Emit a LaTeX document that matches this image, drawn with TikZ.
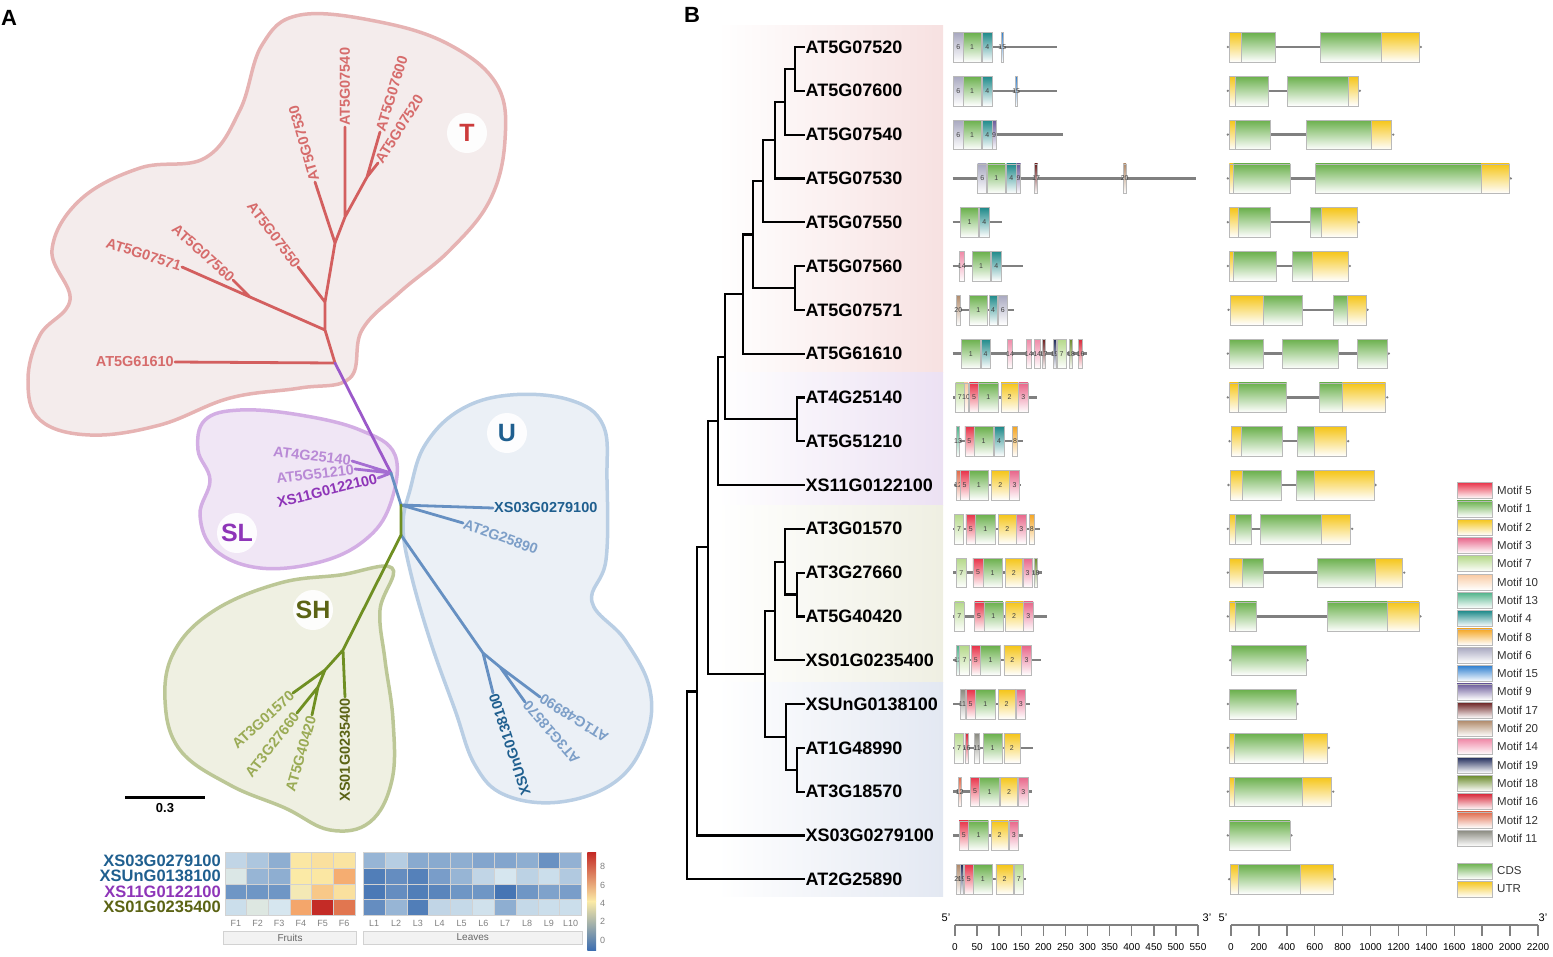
\documentclass[tikz,border=0pt]{standalone}
\usepackage{fontspec}
\setmainfont{Liberation Sans}
\usetikzlibrary{positioning,calc}

% clade colours
\definecolor{tfill}{HTML}{F4ECEC}
\definecolor{tline}{HTML}{E6B3B3}
\definecolor{slfill}{HTML}{F0E6F5}
\definecolor{slline}{HTML}{D3AEE4}
\definecolor{ufill}{HTML}{EBF0F6}
\definecolor{uline}{HTML}{B9CEE4}
\definecolor{shfill}{HTML}{EFF0E2}
\definecolor{shline}{HTML}{BCC796}
\definecolor{tbrc}{HTML}{D35F5F}
\definecolor{tlabc}{HTML}{D66B6B}
\definecolor{tdark}{HTML}{CC3B3B}
\definecolor{trunkc}{HTML}{9B59C9}
\definecolor{slbrc}{HTML}{A56ED2}
\definecolor{sllabc}{HTML}{B98AD6}
\definecolor{sldark}{HTML}{8E35B8}
\definecolor{ubrc}{HTML}{6690C2}
\definecolor{ulabc}{HTML}{7D9FC8}
\definecolor{udark}{HTML}{1F5F8F}
\definecolor{shbrc}{HTML}{6F8F22}
\definecolor{shlabc}{HTML}{9AAB55}
\definecolor{shdark}{HTML}{5B6314}
\definecolor{bandT}{HTML}{F7E1E1}
\definecolor{bandSL}{HTML}{ECE1F3}
\definecolor{bandSH}{HTML}{EFEFE2}
\definecolor{bandU}{HTML}{E3E8F2}
% motif colours
\definecolor{m1}{HTML}{6AB04C}
\definecolor{m2}{HTML}{F5C518}
\definecolor{m3}{HTML}{E8668A}
\definecolor{m4}{HTML}{1F8A8A}
\definecolor{m5}{HTML}{E8344A}
\definecolor{m6}{HTML}{A8A8C0}
\definecolor{m7}{HTML}{B5D98A}
\definecolor{m8}{HTML}{F5A623}
\definecolor{m9}{HTML}{6A5A9A}
\definecolor{m10}{HTML}{F9C9A0}
\definecolor{m11}{HTML}{8A8A80}
\definecolor{m12}{HTML}{E06A4A}
\definecolor{m13}{HTML}{4FB38A}
\definecolor{m14}{HTML}{F08AA8}
\definecolor{m15}{HTML}{2F7FD0}
\definecolor{m16}{HTML}{D8283A}
\definecolor{m17}{HTML}{6A1F1F}
\definecolor{m18}{HTML}{6A8A2A}
\definecolor{m19}{HTML}{1F2A5A}
\definecolor{m20}{HTML}{B08A6A}
\definecolor{cds}{HTML}{6AB04C}
\definecolor{utr}{HTML}{F5C518}
% heatmap colours
\definecolor{hma}{HTML}{3D6EB0}
\definecolor{hmb}{HTML}{D6E6EF}
\definecolor{hmc}{HTML}{FBEAA6}
\definecolor{hmd}{HTML}{F4A66B}
\definecolor{hme}{HTML}{C42B26}

\newcommand{\heatcolor}[1]{%
  \pgfmathsetmacro{\hv}{#1}%
  \ifdim\hv pt<3pt
    \pgfmathtruncatemacro{\hp}{\hv/3*100}\colorlet{hcell}{hmb!\hp!hma}%
  \else\ifdim\hv pt<4.5pt
    \pgfmathtruncatemacro{\hp}{(\hv-3)/1.5*100}\colorlet{hcell}{hmc!\hp!hmb}%
  \else\ifdim\hv pt<6.5pt
    \pgfmathtruncatemacro{\hp}{(\hv-4.5)/2*100}\colorlet{hcell}{hmd!\hp!hmc}%
  \else
    \pgfmathtruncatemacro{\hp}{min(100,(\hv-6.5)/2.5*100)}\colorlet{hcell}{hme!\hp!hmd}%
  \fi\fi\fi}

\newcommand{\motifrow}[4]{%
  \pgfmathsetmacro{\ry}{47+(#1-1)*43.8}
  \draw[backbone] (#2,\ry) -- (#3,\ry);
  \foreach \a/\b/\m [count=\k] in {#4}{
    \path[motif=m\m] (\a,\ry-14.5) rectangle (\b,\ry+15);
    \node[mnum] (mt#1x\k) at ({(\a+\b)/2},\ry) {\m};
  }}

\newcommand{\generow}[4]{%
  \pgfmathsetmacro{\ry}{47+(#1-1)*43.8}
  \draw[backbone] (#2,\ry) -- (#3,\ry);
  \fill[gray] (#2-1.5,\ry) circle (1.3) (#3+1.5,\ry) circle (1.3);
  \foreach \a/\b/\t in {#4}{
    \path[motif=\t] (\a,\ry-14.5) rectangle (\b,\ry+15);
  }}

\tikzset{motif/.style={draw=gray!55,line width=0.6,top color=#1,bottom color=white}}

\begin{document}
\begin{tikzpicture}[x=1pt,y=-1pt]
  \tikzstyle{blob}=[line width=3.5]
  \tikzstyle{abr}=[line width=2.8,line cap=round]
  \tikzstyle{leaflab}=[inner sep=1,font=\fontsize{14.5}{15}\selectfont\bfseries]
  \tikzstyle{clade}=[circle,fill=white,fill opacity=0.9,text opacity=1,minimum size=40,inner sep=0,font=\fontsize{25}{26}\selectfont\bfseries]
  \tikzstyle{gene}=[anchor=west,inner sep=0.5,font=\fontsize{18}{20}\selectfont\bfseries]
  \tikzstyle{clad}=[line width=2.2]
  \tikzstyle{backbone}=[draw=gray,line width=2.5]
  \tikzstyle{mnum}=[inner sep=0,text=black!75,font=\fontsize{7}{7}\selectfont]
  \tikzstyle{legtext}=[anchor=west,inner sep=0,text=black!80,font=\fontsize{11.5}{12}\selectfont]
  \tikzstyle{hmlab}=[anchor=east,inner sep=0,font=\fontsize{16.5}{17}\selectfont\bfseries]
  \tikzstyle{collab}=[inner sep=0,text=gray,font=\fontsize{9}{9}\selectfont]
  \tikzstyle{grpbox}=[draw=gray!35,fill=gray!10,inner sep=0,text=gray!80!black,font=\fontsize{10}{10}\selectfont]
  \tikzstyle{cblab}=[anchor=west,inner sep=0,text=gray,font=\fontsize{9}{9}\selectfont]
  \tikzstyle{scalebar}=[draw=gray,line width=2.5]
  \tikzstyle{ticklab}=[inner sep=0,font=\fontsize{10}{10}\selectfont]
  \useasboundingbox (0,0) rectangle (1553,956);

  \node[anchor=west,inner sep=0,font=\fontsize{22}{22}\selectfont\bfseries] (pa) at (1,18) {A};
  \node[anchor=west,inner sep=0,font=\fontsize{22}{22}\selectfont\bfseries] (pb) at (684,15) {B};

  % ---------- panel A: unrooted tree
  \draw[blob,draw=tline,fill=tfill] plot[smooth cycle,tension=0.65] coordinates {(300,15) (380,22) (450,45) (497,85) (505,140) (490,200) (450,250) (400,292) (362,330) (350,378) (300,388) (230,398) (160,425) (90,435) (40,420) (28,380) (40,335) (70,300) (52,250) (80,200) (140,168) (205,158) (240,110) (262,45)};
  \draw[blob,draw=slline,fill=slfill] plot[smooth cycle,tension=0.65] coordinates {(395,455) (360,430) (300,415) (240,410) (205,420) (198,450) (210,480) (200,515) (215,550) (260,568) (320,562) (365,540) (390,505)};
  \draw[blob,draw=uline,fill=ufill] plot[smooth cycle,tension=0.65] coordinates {(410,490) (425,445) (460,410) (510,395) (570,400) (603,425) (607,480) (606,560) (592,602) (625,640) (650,690) (645,740) (615,782) (560,802) (505,795) (475,765) (455,710) (430,640) (410,570) (403,525)};
  \draw[blob,draw=shline,fill=shfill] plot[smooth cycle,tension=0.65] coordinates {(392,568) (340,575) (280,583) (215,610) (175,650) (165,700) (180,750) (230,785) (285,808) (330,830) (370,822) (392,780) (393,720) (385,660) (380,610)};

  \node[clade,text=tdark] (cT) at (467,133) {T};
  \node[clade,text=udark] (cU) at (507,433) {U};
  \node[clade,text=sldark] (cSL) at (237,533) {SL};
  \node[clade,text=shdark] (cSH) at (313,610) {SH};

  \coordinate (tR) at (335,363);
  \coordinate (t1) at (325,330);
  \coordinate (tj) at (250,297);
  \coordinate (t3) at (325,302);
  \coordinate (t4) at (335,243);
  \coordinate (t5) at (345,217);
  \coordinate (t6) at (367,177);
  \coordinate (sJ) at (391,473);
  \coordinate (aC) at (401,505);
  \coordinate (aG) at (401,535);
  \coordinate (aU1) at (483,653);
  \coordinate (aU2) at (500,667);
  \coordinate (aS1) at (343,650);
  \coordinate (aS2) at (325,670);
  \coordinate (aS3) at (318,687);

  \node[leaflab,text=tlabc,anchor=east] (a61610) at (175,362) {AT5G61610};
  \node[leaflab,text=tlabc,anchor=east,rotate=-18] (a07571) at (182,267) {AT5G07571};
  \node[leaflab,text=tlabc,anchor=east,rotate=-42] (a07560) at (233,280) {AT5G07560};
  \node[leaflab,text=tlabc,anchor=east,rotate=-53] (a07550) at (298,267) {AT5G07550};
  \node[leaflab,text=tlabc,anchor=west,rotate=106] (a07530) at (315,182) {AT5G07530};
  \node[leaflab,text=tlabc,anchor=west,rotate=90] (a07540) at (345,127) {AT5G07540};
  \node[leaflab,text=tlabc,anchor=west,rotate=73] (a07600) at (380,132) {AT5G07600};
  \node[leaflab,text=tlabc,anchor=west,rotate=58] (a07520) at (378,163) {AT5G07520};
  \node[leaflab,text=sllabc,anchor=east,rotate=-7] (a25140) at (352,461) {AT4G25140};
  \node[leaflab,text=sllabc,anchor=east,rotate=7] (a51210) at (355,469) {AT5G51210};
  \node[leaflab,text=sldark,anchor=east,rotate=14] (a122100) at (378,478) {XS11G0122100};
  \node[leaflab,text=udark,anchor=west] (a279100) at (493,508) {XS03G0279100};
  \node[leaflab,text=ulabc,anchor=west,rotate=-20] (a25890) at (463,523) {AT2G25890};
  \node[leaflab,text=udark,anchor=east,rotate=108] (a138100) at (493,693) {XSUnG0138100};
  \node[leaflab,text=ulabc,anchor=east,rotate=131] (a18570) at (525,702) {AT3G18570};
  \node[leaflab,text=ulabc,anchor=east,rotate=148] (a48990) at (540,697) {AT1G48990};
  \node[leaflab,text=shdark,anchor=east,rotate=90] (a235400) at (345,697) {XS01G0235400};
  \node[leaflab,text=shlabc,anchor=east,rotate=42] (a01570) at (293,693) {AT3G01570};
  \node[leaflab,text=shlabc,anchor=east,rotate=52] (a27660) at (297,713) {AT3G27660};
  \node[leaflab,text=shlabc,anchor=east,rotate=74] (a40420) at (312,715) {AT5G40420};

  \draw[abr,tbrc] (tR) -- (a61610.east)
    (tR) -- (t1) -- (tj) -- (a07571.east)
    (tj) -- (a07560.east)
    (t1) -- (t3) -- (a07550.east)
    (t3) -- (t4) -- (a07530.west)
    (t4) -- (t5) -- (a07540.west)
    (t5) -- (t6) -- (a07600.west)
    (t6) -- (a07520.west);
  \draw[abr,trunkc] (tR) -- (sJ);
  \draw[abr,slbrc] (sJ) -- (a25140.east) (sJ) -- (a51210.east) (sJ) -- (a122100.east);
  \draw[abr,ubrc] (sJ) -- (aC) -- (a279100.west) (aC) -- (a25890.west)
    (aG) -- (aU1) -- (a138100.east) (aU1) -- (aU2) -- (a48990.east) (aU2) -- (a18570.east);
  \draw[abr,shbrc] (aC) -- (aG) -- (aS1) -- (a235400.east)
    (aS1) -- (aS2) -- (a01570.east) (aS2) -- (aS3) -- (a27660.east) (aS3) -- (a40420.east);

  \coordinate (sb1) at (125,797);
  \coordinate (sb2) at (205,797);
  \draw[line width=3] (sb1) -- (sb2);
  \node[inner sep=0,font=\fontsize{13}{13}\selectfont\bfseries] (sblab) at (165,808) {0.3};

  % ---------- panel A: heatmap
  \node[hmlab,text=udark] (hx1) at (221,860.5) {XS03G0279100};
  \node[hmlab,text=udark] (hx2) at (221,876.1) {XSUnG0138100};
  \node[hmlab,text=sldark] (hx3) at (221,891.7) {XS11G0122100};
  \node[hmlab,text=shdark] (hx4) at (221,907.3) {XS01G0235400};
  \foreach \vals [count=\r] in {{2.6,2.2,1.6,4.6,4.8,4.7},{3.2,1.8,1.6,4.5,4.6,6.3},{1.0,1.0,1.0,4.2,5.5,4.8},{2.8,3.3,3.0,6.5,9.0,7.5}}
    \foreach \v [count=\c] in \vals {
      \heatcolor{\v}
      \filldraw[fill=hcell,draw=gray!35,line width=0.6] ({225+(\c-1)*21.67},{852.7+(\r-1)*15.6}) rectangle +(21.67,15.6);
    }
  \foreach \vals [count=\r] in {{1.8,2.4,1.5,1.5,1.6,1.4,1.4,1.6,0.9,1.7},{0.4,0.8,0.5,1.2,1.8,2.6,3.0,2.5,2.8,2.3},{0.3,0.8,0.4,0.6,1.0,1.0,0.2,1.0,1.3,1.2},{0.8,1.8,0.4,2.6,2.7,2.9,1.6,2.7,2.8,2.8}}
    \foreach \v [count=\c] in \vals {
      \heatcolor{\v}
      \filldraw[fill=hcell,draw=gray!35,line width=0.6] ({363.3+(\c-1)*21.83},{852.7+(\r-1)*15.6}) rectangle +(21.83,15.6);
    }
  \foreach \c in {1,...,6}
    \node[collab] (fc\c) at ({225+(\c-0.5)*21.67},923) {F\c};
  \foreach \c in {1,...,10}
    \node[collab] (lc\c) at ({363.3+(\c-0.5)*21.83},923) {L\c};
  \node[grpbox,minimum width=133,minimum height=13] (fruits) at (290,937.5) {Fruits};
  \node[grpbox,minimum width=219,minimum height=13] (leaves) at (472.8,937.5) {Leaves};
  \shade[top color=hme,middle color=hmd,bottom color=hmc] (587.3,852.7) rectangle (596,901.3);
  \shade[top color=hmc,middle color=hmb,bottom color=hma] (587.3,901.3) rectangle (596,950);
  \foreach \v/\yy in {8/866.7,6/885,4/903,2/921.7,0/940}
    \node[cblab] (cb\v) at (600,\yy) {\v};

  % ---------- panel B: group bands
  \shade[left color=white,right color=bandT] (718,25) rectangle (943,372);
  \shade[left color=white,right color=bandSL] (718,372) rectangle (943,505);
  \shade[left color=white,right color=bandSH] (718,505) rectangle (943,682);
  \shade[left color=white,right color=bandU] (718,682) rectangle (943,896);

  % ---------- panel B: cladogram
  \foreach \g [count=\i] in {AT5G07520,AT5G07600,AT5G07540,AT5G07530,AT5G07550,AT5G07560,AT5G07571,AT5G61610,AT4G25140,AT5G51210,XS11G0122100,AT3G01570,AT3G27660,AT5G40420,XS01G0235400,XSUnG0138100,AT1G48990,AT3G18570,XS03G0279100,AT2G25890}
    \node[gene] (g\i) at (805,{47+(\i-1)*43.8}) {\g};

  \coordinate (c1) at (795,68.9);
  \coordinate (c2) at (785,101.75);
  \coordinate (c3) at (775,140.1);
  \coordinate (c4) at (763,181.1);
  \coordinate (cp1) at (795,287.9);
  \coordinate (c5) at (753,234.5);
  \coordinate (c6) at (743,294.1);
  \coordinate (cp2) at (797,419.3);
  \coordinate (c7) at (725,356.7);
  \coordinate (c8) at (718,420.8);
  \coordinate (cs1) at (797,594.5);
  \coordinate (cs2) at (785,561.65);
  \coordinate (cs3) at (775,610.9);
  \coordinate (cu1) at (797,769.7);
  \coordinate (cu2) at (786,736.85);
  \coordinate (csu) at (765,673.9);
  \coordinate (c9) at (708,547.35);
  \coordinate (c10) at (697,691.4);
  \coordinate (crt) at (687,785.3);

  \draw[clad] (c1) |- (g1.west) (c1) |- (g2.west)
    (c2) |- (c1) (c2) |- (g3.west)
    (c3) |- (c2) (c3) |- (g4.west)
    (c4) |- (c3) (c4) |- (g5.west)
    (cp1) |- (g6.west) (cp1) |- (g7.west)
    (c5) |- (c4) (c5) |- (cp1)
    (c6) |- (c5) (c6) |- (g8.west)
    (cp2) |- (g9.west) (cp2) |- (g10.west)
    (c7) |- (c6) (c7) |- (cp2)
    (c8) |- (c7) (c8) |- (g11.west)
    (cs1) |- (g13.west) (cs1) |- (g14.west)
    (cs2) |- (g12.west) (cs2) |- (cs1)
    (cs3) |- (cs2) (cs3) |- (g15.west)
    (cu1) |- (g17.west) (cu1) |- (g18.west)
    (cu2) |- (g16.west) (cu2) |- (cu1)
    (csu) |- (cs3) (csu) |- (cu2)
    (c9) |- (c8) (c9) |- (csu)
    (c10) |- (c9) (c10) |- (g19.west)
    (crt) |- (c10) (crt) |- (g20.west);

  % ---------- panel B: motifs
  \motifrow{1}{953}{1057}{953.3/963.3/6,963.3/981/1,982.7/992/4,1001/1003.7/15}
  \motifrow{2}{953}{1057}{953.3/963.3/6,963.3/981/1,982.7/992/4,1015/1017.3/15}
  \motifrow{3}{953}{1063}{953.3/963.3/6,963.3/981/1,982.7/992/4,992/996/9}
  \motifrow{4}{952.7}{1196}{977.7/986.7/6,987.7/1005/1,1006.7/1016/4,1016.3/1020.7/9,1034.7/1037.7/17,1123.3/1126/20}
  \motifrow{5}{952.7}{1001.7}{960.7/978.3/1,979.3/989.3/4}
  \motifrow{6}{952.7}{1023.3}{959.3/964.3/14,972.3/990/1,991.7/1001/4}
  \motifrow{7}{956.7}{1014}{956.7/960/20,969.3/987.3/1,989/997.3/4,998.3/1007.3/6}
  \motifrow{8}{952.7}{1087}{961.7/980/1,981/990/4,1007.3/1012.7/14,1026/1031.7/14,1034.3/1040/14,1042/1045.3/17,1053.3/1056/19,1057.3/1066/7,1069.3/1072.7/18,1078.3/1082.7/16}
  \motifrow{9}{953}{1036.5}{955.5/964/7,964/968/10,969.3/978.6/5,978.6/998/1,1001/1018/2,1018.6/1028/3}
  \motifrow{10}{956.5}{1022.8}{956.5/959.7/13,964.8/973.8/5,973.8/993.4/1,994.5/1003.8/4,1012.4/1017.6/8}
  \motifrow{11}{953.8}{1021}{956/960/12,960/969.3/5,969.3/988.3/1,991.7/1009/2,1009.7/1019.3/3}
  \motifrow{12}{953}{1040}{954.5/963.4/7,965.9/975.5/5,975.5/995.2/1,998.6/1015.9/2,1016.6/1026.2/3,1029.7/1033.8/8}
  \motifrow{13}{953}{1041.7}{956.5/965.9/7,972.8/983.1/5,983.1/1002/1,1005.5/1022/2,1022.8/1032.4/3,1033.8/1037.6/18}
  \motifrow{14}{953}{1047}{954.5/964/7,974.5/983.8/5,983.8/1002.8/1,1005.5/1022.8/2,1023.4/1033.1/3}
  \motifrow{15}{953}{1040.7}{956.5/959.7/13,959.7/969.3/7,971/980.7/5,980.7/1000.3/1,1003.8/1021/2,1021.7/1031.4/3}
  \motifrow{16}{953}{1029.7}{960/964.8/11,965.9/975.2/5,975.2/995.2/1,998/1015.2/2,1015.9/1025.5/3}
  \motifrow{17}{953}{1033}{954.5/963.4/7,964.8/968.3/16,974.5/979.7/11,983.1/1002/1,1003.8/1020/2}
  \motifrow{18}{953}{1032.4}{958/961.4/12,970.3/979.7/5,979.7/999.3/1,1000.3/1017.6/2,1018.6/1028/3}
  \motifrow{19}{953}{1022.8}{959/968.6/5,968.6/988.3/1,991/1008.3/2,1009/1018.6/3}
  \motifrow{20}{956.5}{1026.2}{956.5/960/20,960/963.4/19,964/973.4/5,973.4/992.4/1,995.9/1013/2,1014/1023.4/7}

  % ---------- panel B: gene structures
  \generow{1}{1229.3}{1419.3}{1229.3/1241/utr,1241/1275/cds,1320.7/1381/cds,1381/1419.3/utr}
  \generow{2}{1229.3}{1358.3}{1229.3/1235/utr,1235/1268.3/cds,1287.3/1348.3/cds,1348.3/1358.3/utr}
  \generow{3}{1229.3}{1391.7}{1229.3/1235.3/utr,1235.3/1270/cds,1306/1371.7/cds,1371.7/1391.7/utr}
  \generow{4}{1229.3}{1509.3}{1229.3/1233.3/utr,1233.3/1290/cds,1315.7/1481/cds,1481/1509.3/utr}
  \generow{5}{1229.3}{1357.3}{1229.3/1238.3/utr,1238.3/1270.7/cds,1310.7/1321.7/cds,1321.7/1357.3/utr}
  \generow{6}{1229.3}{1348.3}{1229.3/1233.3/utr,1233.3/1276.7/cds,1292.7/1312.7/cds,1312.7/1348.3/utr}
  \generow{7}{1230}{1366}{1230/1263.3/utr,1263.3/1302.3/cds,1333.3/1347.7/cds,1347.7/1366/utr}
  \generow{8}{1229.3}{1387.3}{1229.3/1263.3/cds,1282/1338.7/cds,1357.3/1387.3/cds}
  \generow{9}{1229.3}{1385.7}{1229.3/1238.3/utr,1238.3/1286.7/cds,1319.3/1342.7/cds,1342.7/1385.7/utr}
  \generow{10}{1231}{1346.7}{1231/1241/utr,1241/1282.7/cds,1297.7/1314.3/cds,1314.3/1346.7/utr}
  \generow{11}{1230}{1374}{1230/1242.7/utr,1242.7/1281.7/cds,1296/1314.3/cds,1314.3/1374/utr}
  \generow{12}{1229.3}{1350.7}{1229.3/1235.7/utr,1235.7/1251/cds,1260.7/1321.7/cds,1321.7/1350.7/utr}
  \generow{13}{1229.3}{1402.7}{1229.3/1242.3/utr,1242.3/1263.3/cds,1317.7/1375.7/cds,1375.7/1402.7/utr}
  \generow{14}{1229.3}{1419}{1229.3/1235/utr,1235/1256.7/cds,1327.3/1387.7/cds,1387.7/1419/utr}
  \generow{15}{1231.7}{1306}{1231.7/1306/cds}
  \generow{16}{1229.3}{1296}{1229.3/1296/cds}
  \generow{17}{1229.3}{1327.3}{1229.3/1234.3/utr,1234.3/1303.3/cds,1303.3/1327.3/utr}
  \generow{18}{1229.3}{1331.7}{1229.3/1234/utr,1234/1302.3/cds,1302.3/1331.7/utr}
  \generow{19}{1229.3}{1290}{1229.3/1290/cds}
  \generow{20}{1230.7}{1333.3}{1230.7/1238.3/utr,1238.3/1300/cds,1300/1333.3/utr}

  % ---------- legend
  \foreach \m [count=\k] in {5,1,2,3,7,10,13,4,8,6,15,9,17,20,14,19,18,16,12,11}{
    \path[motif=m\m] (1457,{490.5+(\k-1)*18.3-8}) rectangle +(35,16);
    \node[legtext] (lg\k) at (1497,{490.5+(\k-1)*18.3}) {Motif \m};
  }
  \path[motif=cds] (1457,863) rectangle +(35,16);
  \node[legtext] (lgcds) at (1497,871) {CDS};
  \path[motif=utr] (1457,881) rectangle +(35,16);
  \node[legtext] (lgutr) at (1497,889) {UTR};

  % ---------- scales
  \draw[scalebar] (955,925) -- (1198,925);
  \foreach \t [count=\k] in {0,50,...,550}{
    \draw[gray,line width=1.5] ({955+\t/550*243},925) -- ++(0,11);
    \node[ticklab] (sa\k) at ({955+\t/550*243},947) {\t};
  }
  \node[ticklab,font=\fontsize{11}{11}\selectfont] (sa5p) at (946,918) {5'};
  \node[ticklab,font=\fontsize{11}{11}\selectfont] (sa3p) at (1207,918) {3'};
  \draw[scalebar] (1231,925) -- (1538,925);
  \foreach \t [count=\k] in {0,200,...,2200}{
    \draw[gray,line width=1.5] ({1231+\t/2200*307},925) -- ++(0,11);
    \node[ticklab] (sg\k) at ({1231+\t/2200*307},947) {\t};
  }
  \node[ticklab,font=\fontsize{11}{11}\selectfont] (sg5p) at (1223,918) {5'};
  \node[ticklab,font=\fontsize{11}{11}\selectfont] (sg3p) at (1543,918) {3'};
\end{tikzpicture}
\end{document}
